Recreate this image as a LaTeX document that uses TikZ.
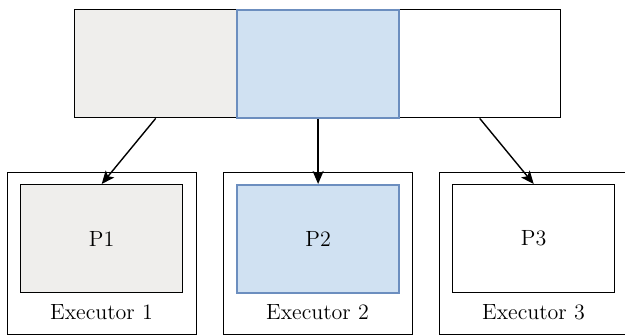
\documentclass[tikz,border=0pt]{standalone}
\usetikzlibrary{arrows.meta}
\definecolor{partgray}{HTML}{EFEEEC}
\definecolor{partblue}{HTML}{D0E1F2}
\definecolor{partedge}{HTML}{6C8EBF}
\tikzset{
  part/.style={draw=black, line width=0.7pt, minimum width=81pt, minimum height=54pt,
    anchor=north west, inner sep=0pt, font=\fontsize{11}{13}\selectfont},
  execbox/.style={draw=black, line width=0.7pt, minimum width=94.5pt, minimum height=81pt,
    anchor=north west, inner sep=0pt},
  execlabel/.style={font=\fontsize{11}{13}\selectfont, inner sep=1pt},
  link/.style={-{Stealth[length=6.5pt,width=5.5pt,inset=1.5pt]}, line width=0.7pt, black}
}
\begin{document}
\begin{tikzpicture}[x=0.5pt,y=-0.5pt]
\useasboundingbox (0,0) rectangle (625,336);
% the data set, split in three partitions
\node[part,fill=partgray] (s1) at (74,9) {};
\node[part] (s3) at (398,9) {};
\node[part,fill=partblue,draw=partedge,line width=1.1pt] (s2) at (236,9) {};
% one executor for each partition
\foreach \i/\x/\col/\edge/\lw in {1/7/partgray/black/0.7pt,2/223/partblue/partedge/1.1pt,3/439/white/black/0.7pt} {
  \node[execbox] (ex\i) at (\x,172) {};
  \node[part,fill=\col,draw=\edge,line width=\lw] (p\i) at (\x+13,184) {P\i};
  \node[execlabel] (lbl\i) at (\x+94.5,312) {Executor \i};
  \draw[link] (s\i.south) -- (p\i.north);
}
\end{tikzpicture}
\end{document}
